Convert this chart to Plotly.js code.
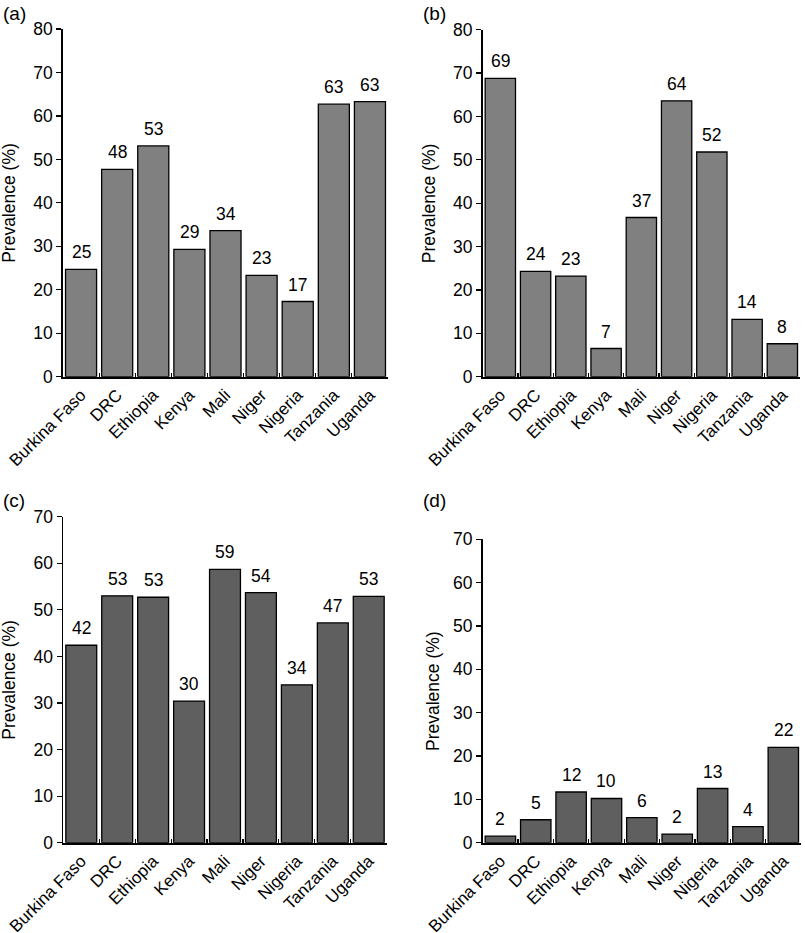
<!DOCTYPE html>
<html>
<head>
<meta charset="utf-8">
<script src="https://cdn.plot.ly/plotly-3.0.1.min.js"></script>
<style>html,body{margin:0;padding:0;background:#fff;}#chart{width:805px;height:933px;}</style>
</head>
<body>
<div id="chart"></div>
<script>
const categories = ['Burkina Faso','DRC','Ethiopia','Kenya','Mali','Niger','Nigeria','Tanzania','Uganda'];
const valuesA = [24.7, 47.7, 53.1, 29.3, 33.6, 23.3, 17.3, 62.7, 63.3];
const labelsA = ['25','48','53','29','34','23','17','63','63'];
const valuesB = [68.8, 24.3, 23.2, 6.5, 36.7, 63.6, 51.8, 13.2, 7.6];
const labelsB = ['69','24','23','7','37','64','52','14','8'];
const valuesC = [42.4, 53.0, 52.7, 30.4, 58.7, 53.7, 33.9, 47.2, 52.9];
const labelsC = ['42','53','53','30','59','54','34','47','53'];
const valuesD = [1.5, 5.3, 11.7, 10.2, 5.8, 2.0, 12.5, 3.7, 22.0];
const labelsD = ['2','5','12','10','6','2','13','4','22'];
const panelLetters = ['(a)','(b)','(c)','(d)'];
const yTitle = 'Prevalence (%)';
const yMax = [80, 80, 70, 70];

const W = 805, H = 933;
const FONT = 'Liberation Sans, Arial, Helvetica, sans-serif';
const FS = 17.5;
const FSX = 17;
const px = v => v / W;
const py = v => (H - v) / H;

const panels = [
  {vals: valuesA, labs: labelsA, color: '#808080', x0: 63, x1: 388, yTop: 29, yBot: 376.7, titleX: 9, letterX: 1, letterY: 13},
  {vals: valuesB, labs: labelsB, color: '#808080', x0: 482.7, x1: 800, yTop: 29.7, yBot: 376.7, titleX: 429, letterX: 421, letterY: 13},
  {vals: valuesC, labs: labelsC, color: '#5f5f5f', x0: 63.3, x1: 386.7, yTop: 516.7, yBot: 842.7, titleX: 9, letterX: 1, letterY: 501},
  {vals: valuesD, labs: labelsD, color: '#5f5f5f', x0: 482.7, x1: 801, yTop: 539.3, yBot: 842.7, titleX: 433, letterX: 421, letterY: 501}
];

const data = [];
const annotations = [];
const layout = {
  width: W, height: H,
  margin: {l: 0, r: 0, t: 0, b: 0},
  paper_bgcolor: '#ffffff', plot_bgcolor: '#ffffff',
  showlegend: false,
  bargap: 0.14,
  font: {family: FONT, size: FS, color: '#000'}
};

panels.forEach((p, i) => {
  const n = i + 1;
  const xa = 'x' + (n === 1 ? '' : n);
  const ya = 'y' + (n === 1 ? '' : n);
  data.push({
    type: 'bar', x: categories, y: p.vals,
    xaxis: xa, yaxis: ya,
    marker: {color: p.color, line: {color: '#000', width: 1.3}},
    hoverinfo: 'skip', cliponaxis: false
  });
  layout['xaxis' + (n === 1 ? '' : n)] = {
    domain: [px(p.x0), px(p.x1)],
    anchor: ya,
    type: 'category',
    range: [-0.5, 8.5],
    showline: true, linecolor: '#000', linewidth: 1.8,
    ticks: 'inside', tickson: 'boundaries', ticklen: 4, tickwidth: 1.2, tickcolor: '#000',
    tickangle: -45,
    tickfont: {family: FONT, size: FSX, color: '#000'},
    showgrid: false, zeroline: false, fixedrange: true
  };
  layout['yaxis' + (n === 1 ? '' : n)] = {
    domain: [py(p.yBot), py(p.yTop)],
    anchor: xa,
    range: [0, yMax[i]],
    dtick: 10,
    showline: true, linecolor: '#000', linewidth: 1.8,
    ticks: 'outside', ticklen: 5, tickwidth: 1.2, tickcolor: '#000',
    tickfont: {family: FONT, size: FS, color: '#000'},
    showgrid: false, zeroline: false, fixedrange: true
  };
  p.vals.forEach((v, k) => {
    annotations.push({
      xref: xa, yref: ya, x: categories[k], y: v,
      text: p.labs[k], showarrow: false,
      xanchor: 'center', yanchor: 'bottom', yshift: 5,
      font: {family: FONT, size: FS, color: '#000'}
    });
  });
  annotations.push({
    xref: 'paper', yref: 'paper',
    x: px(p.titleX), y: (py(p.yBot) + py(p.yTop)) / 2,
    text: yTitle, textangle: -90, showarrow: false,
    xanchor: 'center', yanchor: 'middle',
    font: {family: FONT, size: FS, color: '#000'}
  });
  annotations.push({
    xref: 'paper', yref: 'paper',
    x: px(p.letterX), y: py(p.letterY),
    text: panelLetters[i], showarrow: false,
    xanchor: 'left', yanchor: 'middle',
    font: {family: FONT, size: 19, color: '#000'}
  });
});
layout.annotations = annotations;

Plotly.newPlot('chart', data, layout, {displayModeBar: false, staticPlot: true});
</script>
</body>
</html>
